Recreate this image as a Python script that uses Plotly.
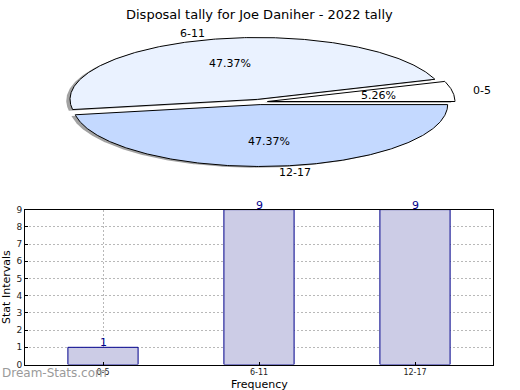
import math
import plotly.graph_objects as go

# ---- data ----
categories = ["0-5", "6-11", "12-17"]
counts = [1, 9, 9]
pie_colors = ["#FFFFFF", "#EAF2FF", "#C4D9FF"]
title_text = "Disposal tally for Joe Daniher - 2022 tally"
y_ticks = list(range(0, 10))

W, H = 520, 390
# pie geometry (pixel-based coordinate system of the pie axes)
CX, CY, RA, RB = 259.5, 99.5, 187.5, 63.5
EXPLODE = 0.043
SHADOW_DX, SHADOW_DY = -0.02, -0.02

fig = go.Figure()

total = sum(counts)
fracs = [c / total for c in counts]


def slice_path(t1, t2, ox, oy):
    n = max(8, int((t2 - t1) * 2))
    xs = [ox]
    ys = [oy]
    for i in range(n + 1):
        t = math.radians(t1 + (t2 - t1) * i / n)
        xs.append(ox + RA * math.cos(t))
        ys.append(oy - RB * math.sin(t))
    xs.append(ox)
    ys.append(oy)
    return xs, ys


angles = []
start = 0.0
for f in fracs:
    angles.append((start, start + 360 * f))
    start += 360 * f

# shadows first
for (t1, t2) in angles:
    mid = math.radians((t1 + t2) / 2)
    ox = CX + EXPLODE * RA * math.cos(mid) + SHADOW_DX * RA
    oy = CY - EXPLODE * RB * math.sin(mid) - SHADOW_DY * RB
    xs, ys = slice_path(t1, t2, ox, oy)
    fig.add_trace(go.Scatter(x=xs, y=ys, fill="toself", mode="lines",
                             fillcolor="rgba(70,70,70,0.5)",
                             line=dict(width=0), hoverinfo="skip",
                             showlegend=False, xaxis="x", yaxis="y"))

annotations = []
for (t1, t2), cat, f, col in zip(angles, categories, fracs, pie_colors):
    mid = math.radians((t1 + t2) / 2)
    ox = CX + EXPLODE * RA * math.cos(mid)
    oy = CY - EXPLODE * RB * math.sin(mid)
    xs, ys = slice_path(t1, t2, ox, oy)
    fig.add_trace(go.Scatter(x=xs, y=ys, fill="toself", mode="lines",
                             fillcolor=col, line=dict(color="black", width=1),
                             hoverinfo="skip", showlegend=False,
                             xaxis="x", yaxis="y"))
    lx = ox + 1.1 * RA * math.cos(mid)
    ly = oy - 1.1 * RB * math.sin(mid)
    annotations.append(dict(x=lx, y=ly, xref="x", yref="y", text=cat,
                            showarrow=False,
                            xanchor="left" if math.cos(mid) > 0 else "right",
                            yanchor="middle",
                            font=dict(family="DejaVu Sans", size=11, color="black")))
    px = ox + 0.6 * RA * math.cos(mid)
    py = oy - 0.6 * RB * math.sin(mid)
    annotations.append(dict(x=px, y=py, xref="x", yref="y",
                            text="%.2f%%" % (f * 100), showarrow=False,
                            xanchor="center", yanchor="middle",
                            font=dict(family="DejaVu Sans", size=11, color="black")))

# bars
xpos = list(range(len(categories)))
fig.add_trace(go.Bar(x=xpos, y=counts, width=0.45,
                     marker=dict(color="rgb(204,204,230)",
                                 line=dict(color="#00008B", width=1)),
                     hoverinfo="skip", showlegend=False,
                     xaxis="x2", yaxis="y2"))
for xp, c in zip(xpos, counts):
    annotations.append(dict(x=xp, y=c, xref="x2", yref="y2", text=str(c),
                            showarrow=False, yanchor="bottom", yshift=-4,
                            font=dict(family="DejaVu Sans", size=11, color="#00008B")))

annotations.append(dict(x=0, y=3 / H, xref="paper", yref="paper",
                        text="Dream-Stats.com", showarrow=False,
                        xanchor="left", yanchor="bottom",
                        font=dict(family="DejaVu Sans", size=12, color="#9a9a9a")))
annotations.append(dict(x=259 / W, y=-8 / H, xref="paper", yref="paper",
                        text="Frequency", showarrow=False,
                        xanchor="center", yanchor="bottom",
                        font=dict(family="DejaVu Sans", size=11, color="black")))
annotations.append(dict(x=259 / W, y=1 - 10 / H, xref="paper", yref="paper",
                        text=title_text, showarrow=False,
                        xanchor="center", yanchor="middle",
                        font=dict(family="DejaVu Sans", size=13, color="black")))

x0, x1 = 25 / W, 493 / W
y0, y1 = 1 - 369 / H, 1 - 210 / H
GRID_DASH = "2px,2px"
GRID_COLOR = "#b8b8b8"

fig.update_layout(
    width=W, height=H,
    margin=dict(l=0, r=0, t=0, b=0),
    paper_bgcolor="white", plot_bgcolor="rgba(0,0,0,0)",
    annotations=annotations,
    xaxis=dict(domain=[0, 1], range=[0, W], visible=False, fixedrange=True),
    yaxis=dict(domain=[0.5, 1], range=[195, 0], visible=False, fixedrange=True),
    xaxis2=dict(domain=[x0, x1], anchor="y2", range=[-0.5, 2.5],
                tickvals=xpos, ticktext=categories,
                showline=True, linecolor="black", linewidth=1, mirror=True,
                showgrid=True, gridcolor=GRID_COLOR, griddash=GRID_DASH, gridwidth=1,
                ticks="inside", ticklen=3, tickcolor="black",
                tickfont=dict(family="DejaVu Sans", size=8, color="#222"),
                zeroline=False, fixedrange=True),
    yaxis2=dict(domain=[y0, y1], anchor="x2", range=[0, 9],
                tickvals=y_ticks,
                showline=True, linecolor="black", linewidth=1, mirror=True,
                showgrid=True, gridcolor=GRID_COLOR, griddash=GRID_DASH, gridwidth=1,
                ticks="inside", ticklen=3, tickcolor="black",
                tickfont=dict(family="DejaVu Sans", size=9, color="#222"),
                title=dict(text="Stat Intervals", standoff=8,
                           font=dict(family="DejaVu Sans", size=11, color="black")),
                zeroline=False, fixedrange=True),
)

fig.write_html("out.html", config={"displayModeBar": False},
               post_script="document.body.style.margin='0';"
                           "document.body.style.overflow='hidden';")
